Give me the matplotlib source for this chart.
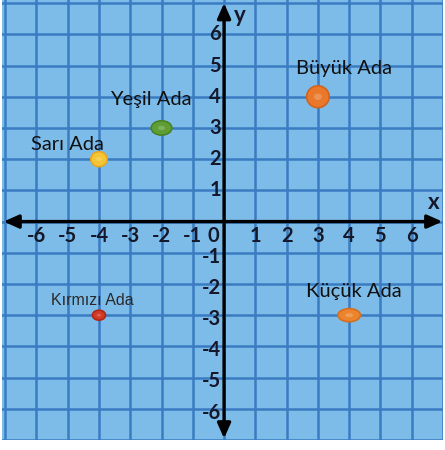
import matplotlib
matplotlib.use("Agg")
import matplotlib.pyplot as plt
from matplotlib.patches import Ellipse

# islands
names = ["Sarı Ada", "Yeşil Ada", "Büyük Ada", "Kırmızı Ada", "Küçük Ada"]
xs = [-4, -2, 3, -4, 4]
ys = [2, 3, 4, -3, -3]

ticks = [-6, -5, -4, -3, -2, -1, 1, 2, 3, 4, 5, 6]

# look of each blob / label
fills = ["#f6c534", "#5f9e34", "#e9782b", "#d23a24", "#ec842e"]
edges = ["#e6a91e", "#4a8228", "#d0641e", "#b02818", "#d66e20"]
sizes = [(0.52, 0.48), (0.66, 0.46), (0.72, 0.70), (0.42, 0.32), (0.72, 0.42)]
lab_pos = [(-5.02, 2.46), (-2.33, 3.92), (3.83, 4.92), (-4.22, -2.52), (4.15, -2.24)]

bg = "#7dbce8"
gridc = "#3a7bc2"

fig = plt.figure(figsize=(4.45, 4.5), dpi=100)
ax = fig.add_axes([2 / 445, 10 / 450, 441 / 445, 440 / 450])
ax.set_facecolor(bg)
ax.set_xlim(-7.1, 7.0)
ax.set_ylim(-7.0, 7.1)
for s in ax.spines.values():
    s.set_visible(False)
ax.set_xticks([])
ax.set_yticks([])

for k in range(-7, 8):
    ax.axvline(k, color=gridc, lw=1.8, zorder=1)
    ax.axhline(k, color=gridc, lw=1.8, zorder=1)

# axes with arrows
arrow = dict(arrowstyle="<|-|>,head_length=0.9,head_width=0.4", color="black", lw=2.4,
             shrinkA=0, shrinkB=0)
ax.annotate("", xy=(-7.05, 0), xytext=(6.98, 0), arrowprops=arrow, zorder=3)
ax.annotate("", xy=(0, -6.95), xytext=(0, 7.0), arrowprops=arrow, zorder=3)

num_font = dict(family="Lato", fontsize=14.5, fontweight="bold", color="#15182a")
for t in ticks:
    ax.text(t, -0.45, str(t), ha="center", va="center", **num_font)
    dy = -0.12 if t < 0 else 0
    ax.text(-0.1, t + dy, str(t), ha="right", va="center", **num_font)
ax.text(-0.35, -0.45, "0", ha="center", va="center", **num_font)
ax.text(6.7, 0.6, "x", ha="center", va="center", family="Lato", fontsize=16,
        fontweight="bold", color="#15182a")
ax.text(0.5, 6.6, "y", ha="center", va="center", family="Lato", fontsize=16,
        fontweight="bold", color="#15182a")

for i in range(len(names)):
    w, h = sizes[i]
    ax.add_patch(Ellipse((xs[i], ys[i]), w, h, facecolor=fills[i], edgecolor=edges[i],
                         lw=1.2, zorder=4))
    ax.add_patch(Ellipse((xs[i], ys[i]), w * 0.35, h * 0.3, facecolor="white", alpha=0.2,
                         lw=0, zorder=5))
    if names[i] == "Kırmızı Ada":
        ax.text(lab_pos[i][0], lab_pos[i][1], names[i], ha="center", va="center",
                family="Liberation Sans", fontsize=11.5, color="#2a2a2a")
    else:
        ax.text(lab_pos[i][0], lab_pos[i][1], names[i], ha="center", va="center",
                family="Lato", fontsize=14.5, color="#111111")

fig.savefig("out.png", dpi=100, facecolor="white")
